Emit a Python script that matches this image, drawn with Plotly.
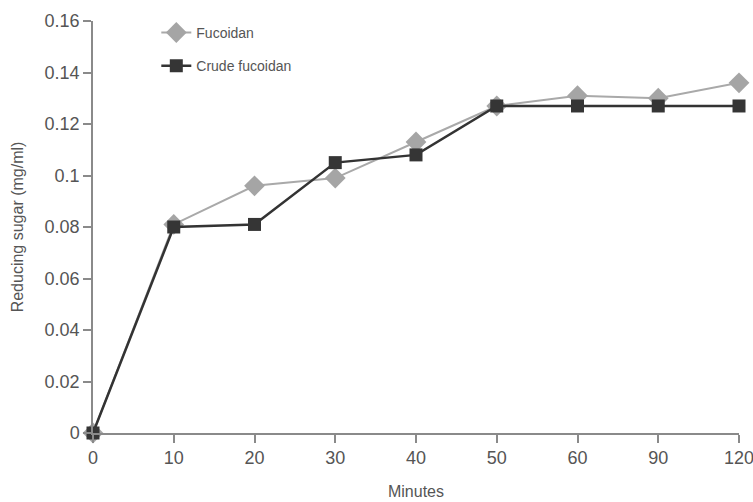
import plotly.graph_objects as go

# Sampling times (minutes), shown as evenly spaced categories
minutes = ["0", "10", "20", "30", "40", "50", "60", "90", "120"]

# Reducing sugar released (mg/ml)
fucoidan = [0.0, 0.081, 0.096, 0.099, 0.113, 0.127, 0.131, 0.130, 0.136]
crude_fucoidan = [0.0, 0.080, 0.081, 0.105, 0.108, 0.127, 0.127, 0.127, 0.127]

# Y-axis ticks and their labels
y_ticks = [0, 0.02, 0.04, 0.06, 0.08, 0.1, 0.12, 0.14, 0.16]
y_tick_labels = ["0", "0.02", "0.04", "0.06", "0.08", "0.1", "0.12", "0.14", "0.16"]

FONT = "Liberation Sans Narrow, Liberation Sans, Arial, sans-serif"
AXIS_GREY = "#8a8a8a"
TEXT_GREY = "#555555"

fig = go.Figure()

fig.add_trace(go.Scatter(
    x=minutes, y=fucoidan, name="Fucoidan", legendgroup="f",
    mode="lines+markers",
    line=dict(color="#a9a9a9", width=2),
    marker=dict(symbol="diamond", size=16, color="#a5a5a5",
                line=dict(width=0)),
    cliponaxis=False,
))

fig.add_trace(go.Scatter(
    x=minutes, y=crude_fucoidan, name="Crude fucoidan", legendgroup="c",
    mode="lines+markers",
    line=dict(color="#333333", width=2.5),
    marker=dict(symbol="square", size=13, color="#353535",
                line=dict(width=0)),
    cliponaxis=False,
))

fig.update_layout(
    width=753, height=502,
    margin=dict(l=93, r=14, t=21, b=69, autoexpand=False),
    paper_bgcolor="white", plot_bgcolor="white",
    font=dict(family=FONT, color=TEXT_GREY, size=16),
    showlegend=True,
    legend=dict(
        x=0.098, y=1.01, xanchor="left", yanchor="top",
        bgcolor="rgba(0,0,0,0)", borderwidth=0,
        font=dict(family=FONT, size=14, color=TEXT_GREY),
        tracegroupgap=12,
    ),
    xaxis=dict(
        type="category", range=[0, 8], automargin=False,
        showgrid=False, zeroline=False,
        showline=True, linecolor=AXIS_GREY, linewidth=1.5,
        ticks="outside", ticklen=8, tickcolor=AXIS_GREY, tickwidth=1.5,
        tickfont=dict(family=FONT, size=18, color=TEXT_GREY),
        title=dict(text="Minutes", standoff=18,
                   font=dict(family=FONT, size=16, color=TEXT_GREY)),
    ),
    yaxis=dict(
        range=[0, 0.16], automargin=False,
        tickvals=y_ticks, ticktext=y_tick_labels,
        showgrid=False, zeroline=False,
        showline=True, linecolor=AXIS_GREY, linewidth=1.5,
        ticks="outside", ticklen=8, tickcolor=AXIS_GREY, tickwidth=1.5,
        tickfont=dict(family=FONT, size=18, color=TEXT_GREY),
        title=dict(text="Reducing sugar (mg/ml)", standoff=17,
                   font=dict(family=FONT, size=16, color=TEXT_GREY)),
    ),
)

fig.write_html("out.html")
